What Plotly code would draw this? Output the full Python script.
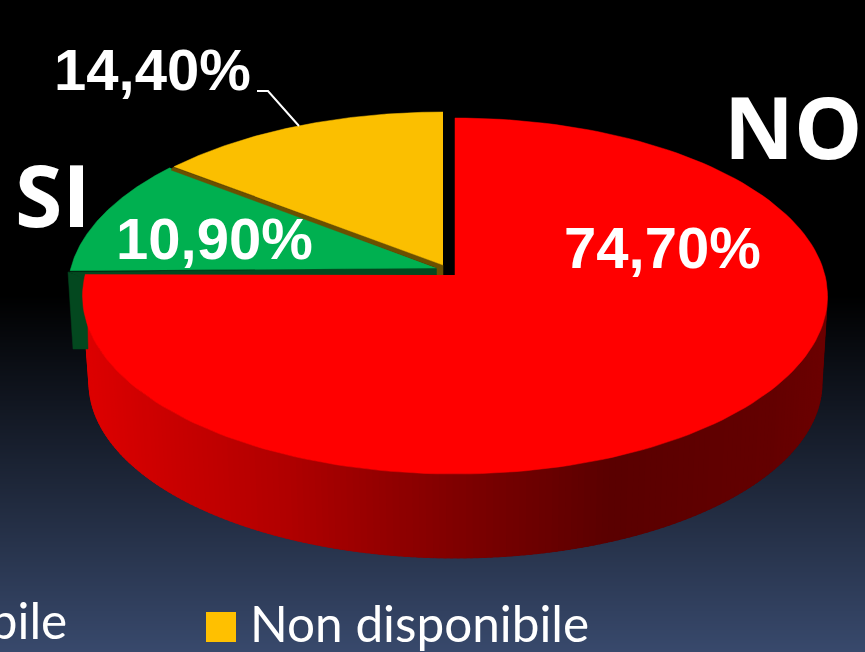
import numpy as np
import plotly.graph_objects as go

# ---- data ----
categories = ["NO", "SI", "Non disponibile"]
values = [74.7, 10.9, 14.4]
colors = ["#FF0000", "#00B050", "#FBBF00"]
legend_labels = ["Disponibile", "Non disponibile"]
legend_swatch = "#FFC000"

W, H = 865, 652


def labels(v):
    return f"{v:.2f}".replace(".", ",") + "%"


def arc(cx, cy, a, b, start, stop, n=160):
    """Points of an ellipse; angle is clockwise from the top, in degrees."""
    t = np.radians(np.linspace(start, stop, n))
    return cx + a * np.sin(t), cy - b * np.cos(t)


def lerp_color(x, stops):
    xs = [s[0] for s in stops]
    return "rgb(%d,0,0)" % np.interp(x, xs, [s[1] for s in stops])


fig = go.Figure()

# background gradient
ys = np.arange(-1, H + 2)
frac = np.clip((ys - 295) / (H - 295), 0, 1)
fig.add_trace(go.Heatmap(
    x=[-1, W + 1], y=ys, z=np.column_stack([frac, frac]),
    colorscale=[[0, "#000000"], [1, "#38496C"]], zmin=0, zmax=1,
    showscale=False, hoverinfo="skip"))


def poly(x, y, color):
    fig.add_trace(go.Scatter(
        x=list(x), y=list(y), mode="lines", fill="toself", fillcolor=color,
        line=dict(color=color, width=0.5), hoverinfo="skip", showlegend=False))


# angles of the slices, clockwise from the top, with the perspective stretch
no_sweep = values[0] / 100 * 360 * 1.03
rest = values[1] + values[2]
si_start = 360 - rest / 100 * 360 * 0.92
na_start = 360 - values[2] / 100 * 360 * 0.89

# red wall
shade = [(89, 220), (165, 202), (276, 178), (442, 130), (607, 90), (773, 100), (825, 108)]
T = (455, 296, 372.5, 178)
B = (455.5, 383, 366.5, 175)
angles = np.linspace(90, no_sweep, 181)
for s, e in zip(angles[:-1], angles[1:]):
    e2 = min(e + 1.5, no_sweep)
    xt, yt = arc(*T, s, e2, 6)
    xb, yb = arc(*B, s, e2, 6)
    poly(np.r_[xt, xb[::-1]], np.r_[yt, yb[::-1]], lerp_color(xt.mean(), shade))

# dark green wall, and the cut faces
poly([68, 73, 88, 86], [272, 349, 349, 278], "#03481F")
poly([68, 437, 440, 85], [272, 268, 275, 279], "#03481F")

# green slice
gx, gy = arc(441, 290, 373, 178, si_start, na_start - 0.5)
poly(np.r_[437, gx], np.r_[268, gy], colors[1])

# orange cut face and slice
poly([173, 443, 443, 437, 437, 171], [167, 265, 275, 275, 268, 170], "#6B5000")
ox, oy = arc(443, 290, 373, 178, na_start, 360)
poly(np.r_[443, ox], np.r_[265, oy], colors[2])

# red slice
rx, ry = arc(*T, 0, no_sweep)
poly(np.r_[455, rx], np.r_[275, ry], colors[0])

# leader line
fig.add_trace(go.Scatter(x=[257, 268, 299], y=[91, 91, 126], mode="lines",
                         line=dict(color="#FFFFFF", width=2), hoverinfo="skip",
                         showlegend=False))

# legend swatch
fig.add_trace(go.Scatter(x=[221], y=[627], mode="markers",
                         marker=dict(symbol="square", size=30, color=legend_swatch, line=dict(width=0)),
                         hoverinfo="skip", showlegend=False))


def text(x, y, s, size, anchor="center", family="Liberation Sans", weight="normal"):
    fig.add_annotation(x=x, y=y, text=s, showarrow=False,
                       xanchor=anchor, yanchor="middle",
                       font=dict(family=family, size=size, color="#FFFFFF", weight=weight))


text(152, 69, labels(values[2]), 58, weight="bold")
text(214, 238, labels(values[1]), 58, weight="bold")
text(662, 247, labels(values[0]), 58, weight="bold")
text(793, 125, categories[0], 86, family="Open Sans", weight="bold")
text(53, 193, categories[1], 86, family="Open Sans", weight="bold")
text(69, 620, legend_labels[0], 49.5, "right", "Lato")
text(248, 623, legend_labels[1], 49.5, "left", "Lato")

fig.update_layout(
    width=W, height=H, margin=dict(l=0, r=0, t=0, b=0), autosize=False,
    paper_bgcolor="#000000", plot_bgcolor="#000000", showlegend=False,
    xaxis=dict(range=[0, W], visible=False, fixedrange=True),
    yaxis=dict(range=[H, 0], visible=False, fixedrange=True),
)
fig.write_html("out.html", config={"displayModeBar": False},
               post_script="document.body.style.margin='0';document.body.style.background='#000';")
